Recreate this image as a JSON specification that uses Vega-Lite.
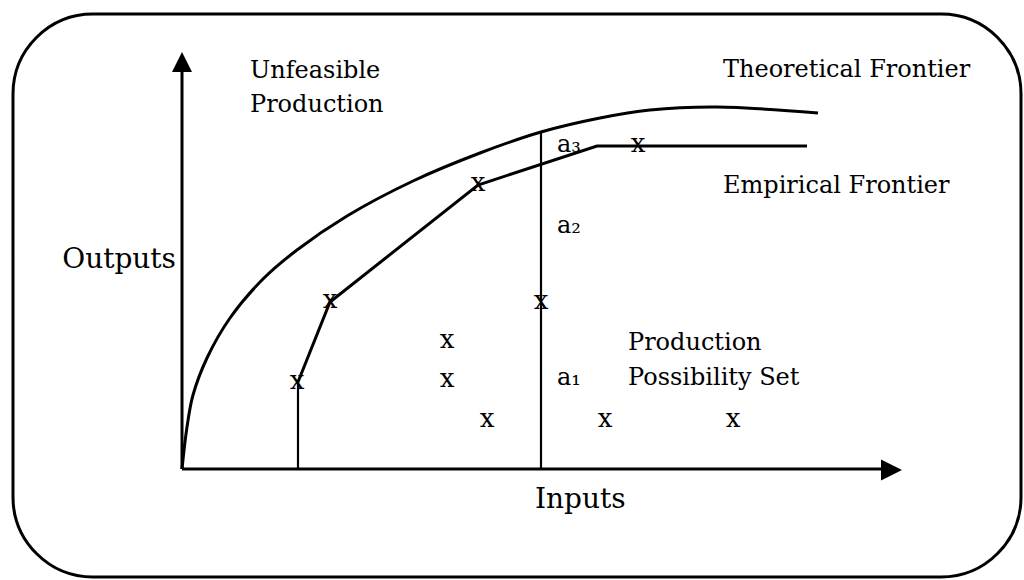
{
  "$schema": "https://vega.github.io/schema/vega-lite/v6.json",
  "width": 1024,
  "height": 580,
  "autosize": "none",
  "padding": 0,
  "background": "white",
  "config": {"view": {"stroke": null}, "text": {"font": "DejaVu Serif", "fontSize": 24, "color": "black"}},
  "datasets": {
    "border": [{"x": -169, "x2": 839, "y": 455, "y2": -108}],
    "axes": [{"x": 0, "y": 0, "x2": 0, "y2": 405}, {"x": 0, "y": 0, "x2": 702, "y2": 0}],
    "verticals": [{"x": 116, "y": 0, "x2": 116, "y2": 87}, {"x": 359, "y": 0, "x2": 359, "y2": 338}],
    "theoretical": [
      {"x": 0, "y": 0}, {"x": 5, "y": 42}, {"x": 11, "y": 74}, {"x": 25, "y": 111}, {"x": 48, "y": 151},
      {"x": 81, "y": 190}, {"x": 115, "y": 219}, {"x": 165, "y": 253}, {"x": 231, "y": 288},
      {"x": 298, "y": 316}, {"x": 359, "y": 337}, {"x": 418, "y": 351}, {"x": 468, "y": 359},
      {"x": 535, "y": 362}, {"x": 636, "y": 356}
    ],
    "empirical": [
      {"i": 1, "x": 116, "y": 87}, {"i": 2, "x": 148, "y": 167}, {"i": 3, "x": 296, "y": 284},
      {"i": 4, "x": 415, "y": 323}, {"i": 5, "x": 625, "y": 323}
    ],
    "arrowUp": [{"x": 0, "y": 407}],
    "arrowRight": [{"x": 709.5, "y": -1}],
    "dmu": [
      {"x": 115, "y": 86}, {"x": 148, "y": 167}, {"x": 296, "y": 284}, {"x": 456, "y": 323},
      {"x": 359, "y": 166}, {"x": 265, "y": 127}, {"x": 265, "y": 88}, {"x": 305, "y": 48},
      {"x": 423, "y": 48}, {"x": 551, "y": 48}
    ],
    "labels": [
      {"label": "Unfeasible", "x": 68, "y": 391},
      {"label": "Production", "x": 68, "y": 357},
      {"label": "Theoretical Frontier", "x": 541, "y": 392},
      {"label": "Empirical Frontier", "x": 541, "y": 276},
      {"label": "a₃", "x": 375, "y": 317},
      {"label": "a₂", "x": 375, "y": 236},
      {"label": "a₁", "x": 375, "y": 84},
      {"label": "Production", "x": 446, "y": 119},
      {"label": "Possibility Set", "x": 446, "y": 84}
    ],
    "yTitle": [{"label": "Outputs", "x": -6, "y": 201}],
    "xTitle": [{"label": "Inputs", "x": 353, "y": -39}]
  },
  "encoding": {
    "x": {"field": "x", "type": "quantitative", "scale": {"domain": [-182, 842], "nice": false, "zero": false}, "axis": null},
    "y": {"field": "y", "type": "quantitative", "scale": {"domain": [-111, 469], "nice": false, "zero": false}, "axis": null}
  },
  "layer": [
    {
      "data": {"name": "border"},
      "mark": {"type": "rect", "cornerRadius": 80, "fill": "transparent", "stroke": "black", "strokeWidth": 3},
      "encoding": {"x2": {"field": "x2"}, "y2": {"field": "y2"}}
    },
    {
      "data": {"name": "axes"},
      "mark": {"type": "rule", "color": "black", "strokeWidth": 3},
      "encoding": {"x2": {"field": "x2"}, "y2": {"field": "y2"}}
    },
    {
      "data": {"name": "verticals"},
      "mark": {"type": "rule", "color": "black", "strokeWidth": 2.2},
      "encoding": {"x2": {"field": "x2"}, "y2": {"field": "y2"}}
    },
    {
      "data": {"name": "theoretical"},
      "mark": {"type": "line", "color": "black", "strokeWidth": 3, "interpolate": "catmull-rom"},
      "encoding": {}
    },
    {
      "data": {"name": "empirical"},
      "mark": {"type": "line", "color": "black", "strokeWidth": 3},
      "encoding": {"order": {"field": "i", "type": "quantitative"}}
    },
    {
      "data": {"name": "arrowUp"},
      "mark": {"type": "point", "shape": "M0,-1L1,1L-1,1Z", "size": 400, "filled": true, "color": "black", "opacity": 1},
      "encoding": {}
    },
    {
      "data": {"name": "arrowRight"},
      "mark": {"type": "point", "shape": "M1,0L-1,1L-1,-1Z", "size": 441, "filled": true, "color": "black", "opacity": 1},
      "encoding": {}
    },
    {
      "data": {"name": "dmu"},
      "mark": {"type": "text", "text": "x", "align": "center", "baseline": "alphabetic", "dy": 6, "fontSize": 26},
      "encoding": {}
    },
    {
      "data": {"name": "labels"},
      "mark": {"type": "text", "align": "left", "baseline": "alphabetic"},
      "encoding": {"text": {"field": "label", "type": "nominal"}}
    },
    {
      "data": {"name": "yTitle"},
      "mark": {"type": "text", "align": "right", "baseline": "alphabetic", "fontSize": 28},
      "encoding": {"text": {"field": "label", "type": "nominal"}}
    },
    {
      "data": {"name": "xTitle"},
      "mark": {"type": "text", "align": "left", "baseline": "alphabetic", "fontSize": 28},
      "encoding": {"text": {"field": "label", "type": "nominal"}}
    }
  ]
}
